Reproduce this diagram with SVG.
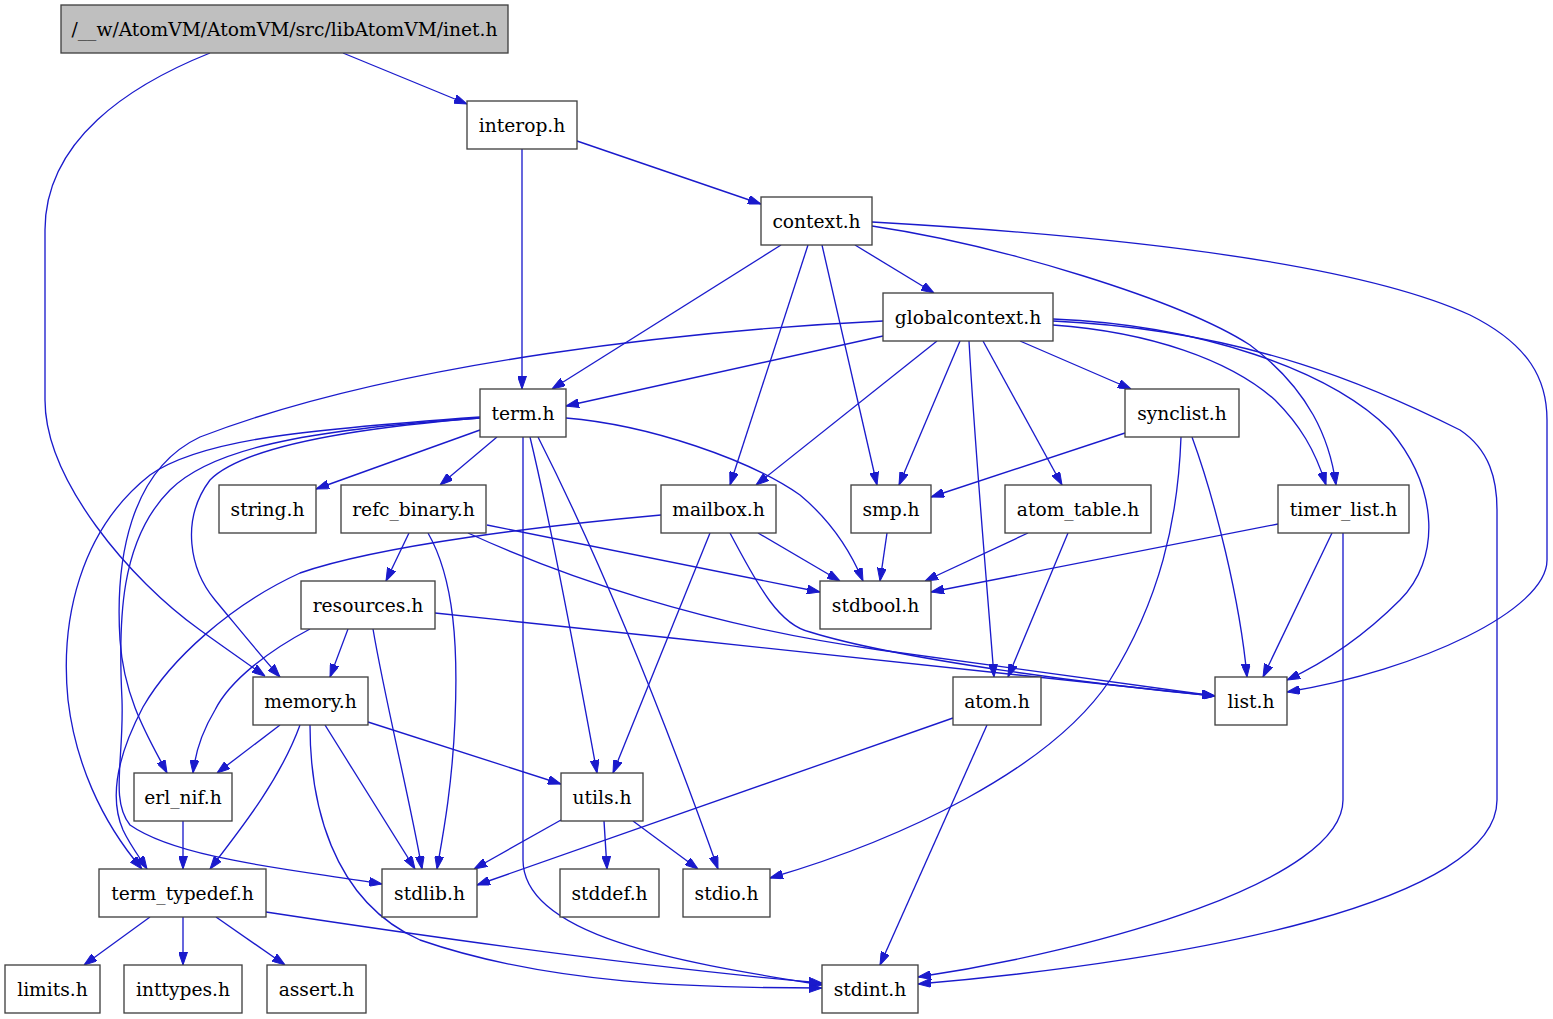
<svg xmlns="http://www.w3.org/2000/svg" width="1553" height="1019" viewBox="0 0 1553 1019">
<style>
.n rect{fill:#fff;stroke:#404040;stroke-width:1.33}
.n text{font-family:"DejaVu Serif",serif;font-size:18.67px;fill:#000;text-anchor:middle}
.root rect{fill:#bfbfbf}
.e path{fill:none;stroke:#1a1acc;stroke-width:1.33;marker-end:url(#ah)}
</style>
<defs>
<marker id="ah" viewBox="0 0 13 9" refX="13" refY="4.5" markerWidth="13" markerHeight="9" markerUnits="userSpaceOnUse" orient="auto"><path d="M0,0 L13,4.5 L0,9 z" fill="#1a1acc" stroke="#1a1acc" stroke-width="1"/></marker>
</defs>
<rect width="1553" height="1019" fill="#fff"/>
<g id="edges" class="e">
<path d="M343,53 L467,104"/>
<path d="M210,53 C130,85 45,140 45,230 L45,400 C45,480 130,580 200,630 C225,648 245,662 265,676"/>
<path d="M522,149 L522,389"/>
<path d="M577,141 L761,204"/>
<path d="M781,245 L552,389"/>
<path d="M808,245 L730,485"/>
<path d="M822,245 L877,485"/>
<path d="M855,245 L934,293"/>
<path d="M872,226 C1000,245 1180,300 1250,345 C1310,390 1330,440 1336,485"/>
<path d="M872,222 C1100,235 1350,260 1470,315 C1530,345 1547,380 1547,420 L1547,560 C1547,610 1420,670 1287,692"/>
<path d="M883,336 L566,406"/>
<path d="M883,321 C700,330 400,360 200,437 C130,470 115,560 120,640 C124,700 150,740 167,773"/>
<path d="M937,341 L756,485"/>
<path d="M960,341 L899,485"/>
<path d="M969,341 C975,450 985,560 994,677"/>
<path d="M983,341 L1062,485"/>
<path d="M1020,341 L1131,389"/>
<path d="M1053,325 C1150,332 1230,360 1275,400 C1300,425 1315,450 1326,485"/>
<path d="M1053,319 C1200,325 1330,370 1390,430 C1440,490 1440,560 1400,600 C1370,630 1330,660 1287,680"/>
<path d="M1053,321 C1250,330 1380,390 1460,430 C1490,450 1497,480 1497,510 L1497,800 C1497,900 1200,960 918,984"/>
<path d="M1125,433 L931,497"/>
<path d="M1181,437 C1178,520 1160,600 1110,680 C1050,770 900,840 770,878"/>
<path d="M1192,437 C1215,500 1240,600 1247,677"/>
<path d="M1278,524 L931,592"/>
<path d="M1332,533 L1263,677"/>
<path d="M1343,533 L1343,800 C1343,880 1100,950 918,977"/>
<path d="M1028,533 L925,581"/>
<path d="M1068,533 L1008,677"/>
<path d="M887,533 L880,581"/>
<path d="M758,533 L840,581"/>
<path d="M710,533 L613,773"/>
<path d="M730,533 C760,590 780,625 810,632 C900,660 1100,685 1215,696"/>
<path d="M661,515 C550,525 380,545 300,573 C230,605 170,660 143,707 C115,760 110,800 123,830 C130,845 140,858 147,869"/>
<path d="M480,430 L316,489"/>
<path d="M497,437 L440,485"/>
<path d="M566,418 C650,425 750,460 800,495 C830,520 850,550 863,581"/>
<path d="M530,437 C550,520 580,680 597,773"/>
<path d="M538,437 C580,520 640,650 718,869"/>
<path d="M523,437 L523,860 C523,940 700,965 822,985"/>
<path d="M480,418 C330,430 240,450 210,480 C180,520 190,570 215,600 C240,630 260,655 280,677"/>
<path d="M480,417 C300,430 200,440 150,475 C80,530 60,620 68,700 C75,760 100,820 142,869"/>
<path d="M480,418 C300,430 210,450 170,490 C120,540 118,620 122,700 C124,760 110,800 130,825 C180,860 300,870 382,884"/>
<path d="M409,533 L386,581"/>
<path d="M487,525 L820,592"/>
<path d="M468,533 C560,575 700,625 880,650 L1215,696"/>
<path d="M428,533 C455,580 458,650 455,720 C452,790 442,840 437,869"/>
<path d="M348,629 L330,677"/>
<path d="M373,629 C385,700 410,800 422,869"/>
<path d="M310,629 C270,650 230,680 215,710 C200,735 195,755 193,773"/>
<path d="M435,613 C700,640 1000,675 1215,696"/>
<path d="M280,725 L217,773"/>
<path d="M300,725 C280,780 240,830 210,869"/>
<path d="M325,725 L415,869"/>
<path d="M368,722 L561,784"/>
<path d="M310,725 C310,800 330,900 420,940 C550,985 700,988 822,988"/>
<path d="M987,725 L880,965"/>
<path d="M953,718 L477,885"/>
<path d="M561,820 L474,869"/>
<path d="M604,821 L607,869"/>
<path d="M633,821 L698,869"/>
<path d="M183,821 L183,869"/>
<path d="M150,917 L84,965"/>
<path d="M183,917 L183,965"/>
<path d="M216,917 L285,965"/>
<path d="M266,912 C450,940 650,968 822,983"/>
</g>
<g id="node-inet" class="n root"><rect x="61" y="5" width="447" height="48"/><text x="284.5" y="35.5">/__w/AtomVM/AtomVM/src/libAtomVM/inet.h</text></g>
<g id="node-interop" class="n"><rect x="467" y="101" width="110" height="48"/><text x="522" y="131.5">interop.h</text></g>
<g id="node-context" class="n"><rect x="761" y="197" width="111" height="48"/><text x="816.5" y="227.5">context.h</text></g>
<g id="node-globalcontext" class="n"><rect x="883" y="293" width="170" height="48"/><text x="968" y="323.5">globalcontext.h</text></g>
<g id="node-term" class="n"><rect x="480" y="389" width="86" height="48"/><text x="523" y="419.5">term.h</text></g>
<g id="node-synclist" class="n"><rect x="1125" y="389" width="114" height="48"/><text x="1182" y="419.5">synclist.h</text></g>
<g id="node-string" class="n"><rect x="219" y="485" width="97" height="48"/><text x="267.5" y="515.5">string.h</text></g>
<g id="node-refc_binary" class="n"><rect x="341" y="485" width="145" height="48"/><text x="413.5" y="515.5">refc_binary.h</text></g>
<g id="node-mailbox" class="n"><rect x="661" y="485" width="115" height="48"/><text x="718.5" y="515.5">mailbox.h</text></g>
<g id="node-smp" class="n"><rect x="851" y="485" width="80" height="48"/><text x="891" y="515.5">smp.h</text></g>
<g id="node-atom_table" class="n"><rect x="1005" y="485" width="146" height="48"/><text x="1078" y="515.5">atom_table.h</text></g>
<g id="node-timer_list" class="n"><rect x="1278" y="485" width="131" height="48"/><text x="1343.5" y="515.5">timer_list.h</text></g>
<g id="node-resources" class="n"><rect x="301" y="581" width="134" height="48"/><text x="368" y="611.5">resources.h</text></g>
<g id="node-stdbool" class="n"><rect x="820" y="581" width="111" height="48"/><text x="875.5" y="611.5">stdbool.h</text></g>
<g id="node-memory" class="n"><rect x="253" y="677" width="115" height="48"/><text x="310.5" y="707.5">memory.h</text></g>
<g id="node-atom" class="n"><rect x="953" y="677" width="88" height="48"/><text x="997" y="707.5">atom.h</text></g>
<g id="node-list" class="n"><rect x="1215" y="677" width="72" height="48"/><text x="1251" y="707.5">list.h</text></g>
<g id="node-erl_nif" class="n"><rect x="134" y="773" width="98" height="48"/><text x="183" y="803.5">erl_nif.h</text></g>
<g id="node-utils" class="n"><rect x="561" y="773" width="82" height="48"/><text x="602" y="803.5">utils.h</text></g>
<g id="node-term_typedef" class="n"><rect x="99" y="869" width="167" height="48"/><text x="182.5" y="899.5">term_typedef.h</text></g>
<g id="node-stdlib" class="n"><rect x="382" y="869" width="95" height="48"/><text x="429.5" y="899.5">stdlib.h</text></g>
<g id="node-stddef" class="n"><rect x="560" y="869" width="99" height="48"/><text x="609.5" y="899.5">stddef.h</text></g>
<g id="node-stdio" class="n"><rect x="683" y="869" width="87" height="48"/><text x="726.5" y="899.5">stdio.h</text></g>
<g id="node-limits" class="n"><rect x="5" y="965" width="95" height="48"/><text x="52.5" y="995.5">limits.h</text></g>
<g id="node-inttypes" class="n"><rect x="124" y="965" width="118" height="48"/><text x="183" y="995.5">inttypes.h</text></g>
<g id="node-assert" class="n"><rect x="267" y="965" width="99" height="48"/><text x="316.5" y="995.5">assert.h</text></g>
<g id="node-stdint" class="n"><rect x="822" y="965" width="96" height="48"/><text x="870" y="995.5">stdint.h</text></g>
</svg>
